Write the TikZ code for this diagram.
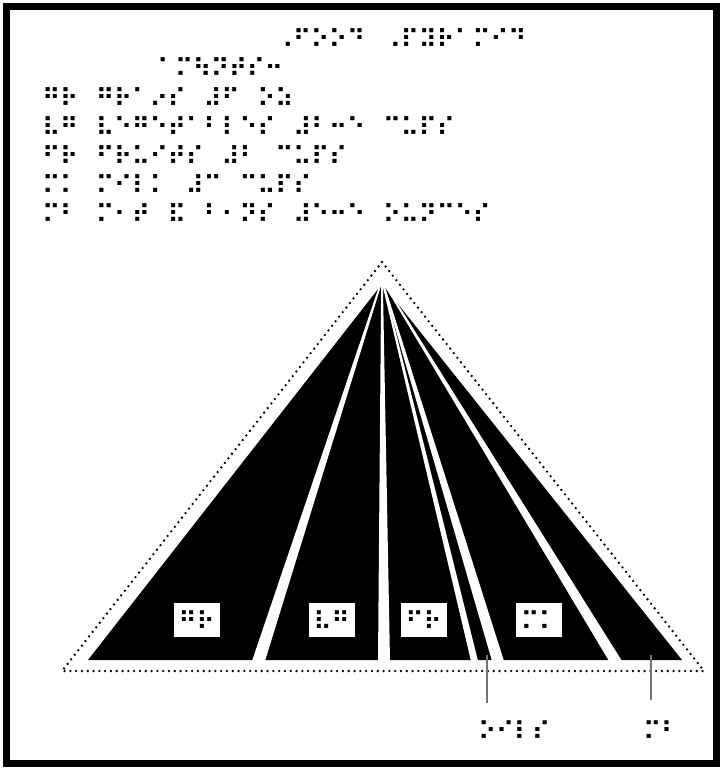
\documentclass[tikz,border=0pt]{standalone}
\usepackage{fontspec}
\newfontfamily\brfont[FakeBold=1.5]{DejaVu Sans}
\tikzset{
  br/.style={font=\brfont\fontsize{24.5}{24.5}\selectfont, inner sep=0pt, anchor=west},
  keybox/.style={fill=white, draw=none, minimum width=46pt, minimum height=34pt, inner sep=0pt,
    font=\brfont\fontsize{24.5}{24.5}\selectfont},
  dotline/.style={line width=2.6pt, line cap=round, dash pattern=on 0pt off 5.8pt},
  leader/.style={draw=black!55, line width=1.4pt},
}
\begin{document}
\begin{tikzpicture}[x=1pt,y=-1pt]
\useasboundingbox (0,0) rectangle (723,770);
\fill[white] (0,0) rectangle (723,770);
\draw[line width=7pt] (6.5,6.5) rectangle (716.5,763.5);

% legend text
\node[br] (title) at (275,38) {⠠⠋⠕⠕⠙⠀⠠⠏⠽⠗⠁⠍⠊⠙};
\node[br] (head) at (157,67) {⠁⠍⠳⠝⠞⠎⠒};
\node[br] (lgr) at (42,97) {⠛⠗⠀⠛⠗⠁⠔⠎⠀⠼⠋⠀⠕⠵};
\node[br] (lvg) at (42,126) {⠧⠛⠀⠧⠑⠛⠑⠞⠁⠃⠇⠑⠎⠀⠼⠃⠒⠑⠀⠉⠥⠏⠎};
\node[br] (lfr) at (42,155) {⠋⠗⠀⠋⠗⠥⠊⠞⠎⠀⠼⠃⠀⠉⠥⠏⠎};
\node[br] (lmk) at (42,184) {⠍⠅⠀⠍⠊⠇⠅⠀⠼⠉⠀⠉⠥⠏⠎};
\node[br] (lmb) at (42,213) {⠍⠃⠀⠍⠂⠞⠀⠯⠀⠃⠂⠝⠎⠀⠼⠑⠒⠑⠀⠕⠥⠝⠉⠑⠎};

% pyramid
\fill[black] (382,284) -- (682,660) -- (88,660) -- cycle;
\foreach \l/\r in {252/265, 378/390, 471/478, 492/504, 609/622}
  \fill[white] (381.2,280) -- (382.8,280) -- (\r,661) -- (\l,661) -- cycle;

% key boxes
\node[keybox] (bgr) at (196.5,620) {⠛⠗};
\node[keybox] (bvg) at (331.5,620) {⠧⠛};
\node[keybox] (bfr) at (423.5,620) {⠋⠗};
\node[keybox] (bmk) at (539,620) {⠍⠅};

% dotted outline
\draw[dotline] (382,262) -- (704,671) -- (62,671) -- cycle;

% outside labels
\coordinate (oilTop) at (487,655);
\coordinate (mbTop) at (651,655);
\node[br] (loil) at (478,730) {⠕⠊⠇⠎};
\node[br] (lmb2) at (643,730) {⠍⠃};
\coordinate (oilBot) at (487,703);
\coordinate (mbBot) at (651,700);
\draw[leader] (oilTop) -- (oilBot);
\draw[leader] (mbTop) -- (mbBot);
\end{tikzpicture}
\end{document}
